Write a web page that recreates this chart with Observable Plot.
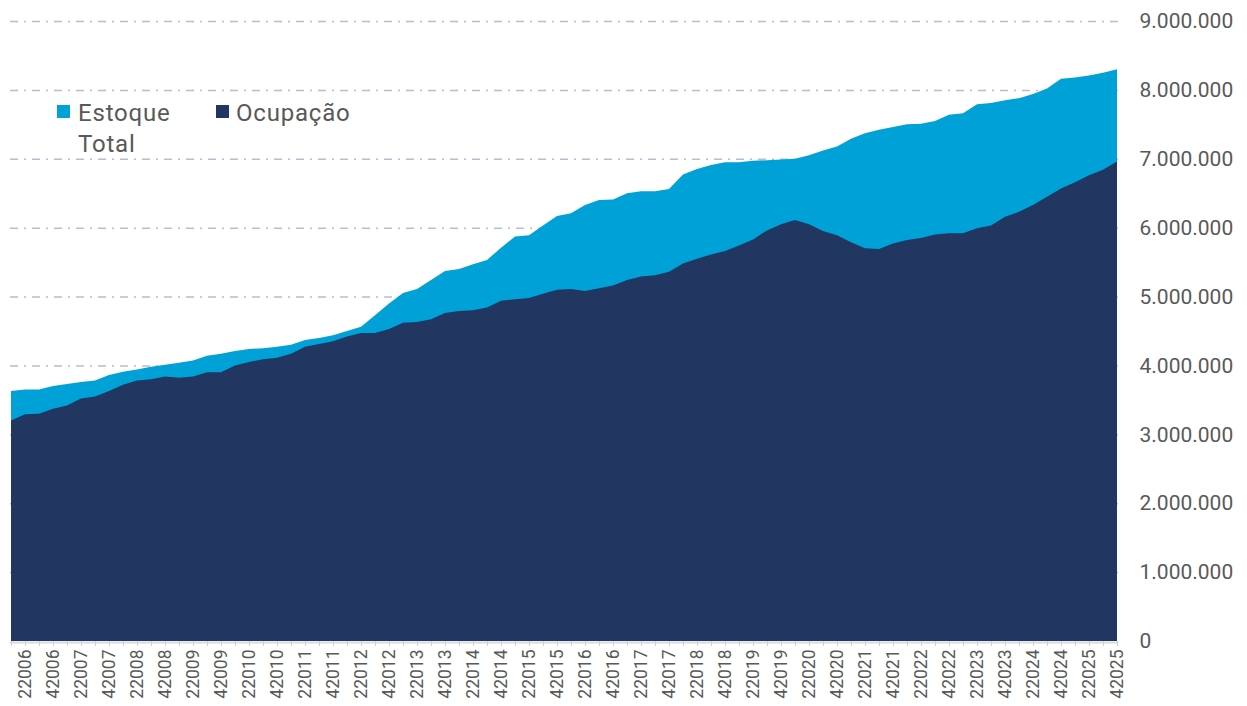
<!DOCTYPE html>
<html>
<head>
<meta charset="utf-8">
<script src="https://cdn.jsdelivr.net/npm/d3@7"></script>
<script src="https://cdn.jsdelivr.net/npm/@observablehq/plot@0.6"></script>
<style>
  html, body { margin: 0; padding: 0; background: #fff; overflow: hidden; }
  #wrap { position: relative; width: 1247px; height: 706px; font-family: Roboto, "Open Sans", sans-serif; }
  .sw { position: absolute; width: 13px; height: 13px; }
  .lg { position: absolute; font-size: 24px; line-height: 31px; color: #595959; letter-spacing: 0.8px; }
</style>
</head>
<body>
<div id="wrap">
  <div class="sw" style="left:57px; top:105px; background:#00a1d7;"></div>
  <div class="lg" style="left:78px; top:98px;">Estoque<br>Total</div>
  <div class="sw" style="left:216px; top:105px; background:#213761;"></div>
  <div class="lg" style="left:236px; top:98px;">Ocupação</div>
</div>
<script>
// Years and quarters (categories)
const years = [2006, 2007, 2008, 2009, 2010, 2011, 2012, 2013, 2014, 2015,
               2016, 2017, 2018, 2019, 2020, 2021, 2022, 2023, 2024, 2025];
const quarters = [1, 2, 3, 4];
const periods = years.flatMap(y => quarters.map(q => `${q}${y}`));

// Labelled ticks (2nd and 4th quarters)
const tickLabels = years.flatMap(y => [`2${y}`, `4${y}`]);

// Series values (millions)
const estoqueTotal = [
  3.63, 3.65, 3.65, 3.70, 3.73, 3.76, 3.78, 3.86, 3.91, 3.94,
  3.98, 4.01, 4.04, 4.07, 4.14, 4.17, 4.21, 4.24, 4.25, 4.27,
  4.30, 4.37, 4.40, 4.44, 4.50, 4.56, 4.73, 4.90, 5.05, 5.11,
  5.24, 5.37, 5.40, 5.47, 5.53, 5.71, 5.87, 5.89, 6.03, 6.17,
  6.21, 6.33, 6.40, 6.41, 6.50, 6.53, 6.53, 6.56, 6.77, 6.85,
  6.91, 6.95, 6.95, 6.97, 6.98, 6.99, 7.00, 7.05, 7.12, 7.18,
  7.29, 7.37, 7.42, 7.46, 7.50, 7.51, 7.55, 7.64, 7.66, 7.79,
  7.81, 7.85, 7.88, 7.94, 8.02, 8.16, 8.18, 8.21, 8.25, 8.30
];
const ocupacao = [
  3.20, 3.29, 3.30, 3.37, 3.42, 3.52, 3.55, 3.63, 3.72, 3.78,
  3.80, 3.84, 3.82, 3.84, 3.90, 3.90, 4.00, 4.05, 4.09, 4.11,
  4.17, 4.27, 4.31, 4.35, 4.42, 4.47, 4.47, 4.53, 4.62, 4.63,
  4.67, 4.76, 4.79, 4.80, 4.84, 4.94, 4.96, 4.98, 5.04, 5.10,
  5.11, 5.08, 5.12, 5.16, 5.24, 5.29, 5.31, 5.36, 5.48, 5.55,
  5.61, 5.66, 5.74, 5.83, 5.96, 6.05, 6.11, 6.05, 5.95, 5.89,
  5.79, 5.70, 5.69, 5.77, 5.82, 5.85, 5.90, 5.92, 5.92, 5.99,
  6.03, 6.16, 6.23, 6.33, 6.45, 6.57, 6.66, 6.76, 6.84, 6.96
];

// Y axis ticks
const yTicks = [0, 1000000, 2000000, 3000000, 4000000, 5000000, 6000000, 7000000, 8000000, 9000000];
const gridTicks = yTicks.slice(1);

const colors = { total: "#00a1d7", occ: "#213761", grid: "#b5bdd4", text: "#595959" };

const data = periods.map((p, i) => ({ period: p, total: estoqueTotal[i] * 1e6, occ: ocupacao[i] * 1e6 }));
const labelSet = new Set(tickLabels);
const fmt = d3.formatLocale({ decimal: ",", thousands: ".", grouping: [3], currency: ["", ""] }).format(",d");

const chart = Plot.plot({
  width: 1247,
  height: 706,
  marginLeft: 10,
  marginRight: 129,
  marginTop: 21,
  marginBottom: 65,
  style: { fontFamily: "Roboto, 'Open Sans', sans-serif", background: "transparent" },
  x: { type: "point", domain: periods, padding: 0, axis: null },
  y: { domain: [0, 9000000], axis: null },
  marks: [
    Plot.ruleY(gridTicks, { stroke: colors.grid, strokeWidth: 1.5, strokeDasharray: "8,6,2,6" }),
    Plot.areaY(data, { x: "period", y1: 0, y2: "total", fill: colors.total }),
    Plot.areaY(data, { x: "period", y1: 0, y2: "occ", fill: colors.occ }),
    Plot.ruleY([0], { stroke: "#d9d9d9", strokeWidth: 2, dy: 1 }),
    Plot.axisX({
      ticks: periods, tickSize: 5, tickPadding: 3, tickRotate: -90,
      tickFormat: d => labelSet.has(d) ? d : "",
      stroke: "#cfcfcf", fill: colors.text, fontSize: 17.5, label: null
    }),
    Plot.axisY({
      anchor: "right", ticks: yTicks, tickSize: 0, tickPadding: 21,
      tickFormat: fmt, fill: colors.text, fontSize: 21, label: null
    })
  ]
});
document.getElementById("wrap").prepend(chart);
chart.style.position = "absolute";
chart.style.left = "0";
chart.style.top = "0";
</script>
</body>
</html>
